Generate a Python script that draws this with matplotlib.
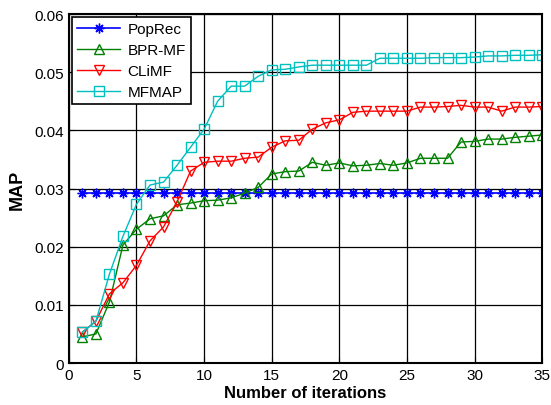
import matplotlib
matplotlib.use("Agg")
import matplotlib.pyplot as plt

iters = list(range(1, 36))
poprec = [0.0292] * 35
bprmf = [0.0045, 0.0050, 0.0105, 0.0203, 0.0230, 0.0248, 0.0253, 0.0272, 0.0275, 0.0279,
         0.0280, 0.0284, 0.0292, 0.0302, 0.0325, 0.0329, 0.0330, 0.0345, 0.0340, 0.0344,
         0.0339, 0.0340, 0.0343, 0.0340, 0.0344, 0.0352, 0.0352, 0.0352, 0.0380, 0.0381,
         0.0385, 0.0385, 0.0388, 0.0390, 0.0392]
climf = [0.0053, 0.0072, 0.0119, 0.0138, 0.0168, 0.0210, 0.0234, 0.0277, 0.0330, 0.0345,
         0.0347, 0.0347, 0.0352, 0.0354, 0.0371, 0.0382, 0.0383, 0.0402, 0.0413, 0.0418,
         0.0431, 0.0433, 0.0433, 0.0433, 0.0433, 0.0440, 0.0440, 0.0441, 0.0443, 0.0440,
         0.0440, 0.0433, 0.0440, 0.0440, 0.0441]
mfmap = [0.0053, 0.0072, 0.0153, 0.0218, 0.0273, 0.0306, 0.0311, 0.0340, 0.0371, 0.0402,
         0.0450, 0.0476, 0.0476, 0.0493, 0.0504, 0.0505, 0.0509, 0.0512, 0.0512, 0.0512,
         0.0512, 0.0512, 0.0524, 0.0524, 0.0524, 0.0524, 0.0525, 0.0525, 0.0525, 0.0526,
         0.0528, 0.0528, 0.0529, 0.0529, 0.0530]
xticks = [0, 5, 10, 15, 20, 25, 30, 35]
yticks = [0, 0.01, 0.02, 0.03, 0.04, 0.05, 0.06]
ytick_labels = ["0", "0.01", "0.02", "0.03", "0.04", "0.05", "0.06"]

plt.rcParams['font.family'] = ['Liberation Sans', 'DejaVu Sans']

fig = plt.figure(figsize=(5.51, 4.06), dpi=100)
ax = fig.add_axes([0.125, 0.1034, 0.859, 0.8596])

ax.plot(iters, poprec, color='blue', marker=(8, 2, 0), markersize=7, lw=1.2, label='PopRec')
ax.plot(iters, bprmf, color=(0, 0.5, 0), marker='^', markersize=7.5, mfc='none', lw=1, label='BPR-MF')
ax.plot(iters, climf, color='red', marker='v', markersize=7.5, mfc='none', lw=1, label='CLiMF')
ax.plot(iters, mfmap, color=(0, 0.75, 0.75), marker='s', markersize=6.5, mfc='none', lw=1, label='MFMAP')

ax.set_xlim(0, 35)
ax.set_ylim(0, 0.06)
ax.set_xticks(xticks)
ax.set_yticks(yticks)
ax.set_yticklabels(ytick_labels)
ax.grid(True, color='black', linestyle='-', linewidth=0.9)
ax.set_axisbelow(True)
ax.tick_params(direction='in', labelsize=11, length=4)
for s in ax.spines.values():
    s.set_linewidth(1.5)

ax.set_xlabel('Number of iterations', fontsize=12, fontweight='bold', labelpad=2)
ax.set_ylabel('MAP', fontsize=13, fontweight='bold', labelpad=6)

leg = ax.legend(loc='upper left', fontsize=11, fancybox=False, framealpha=1,
                edgecolor='black', borderaxespad=0.2, handlelength=2.8,
                labelspacing=0.45, borderpad=0.35, handletextpad=0.5)
leg.get_frame().set_linewidth(1.2)

fig.savefig('out.png', dpi=100)
